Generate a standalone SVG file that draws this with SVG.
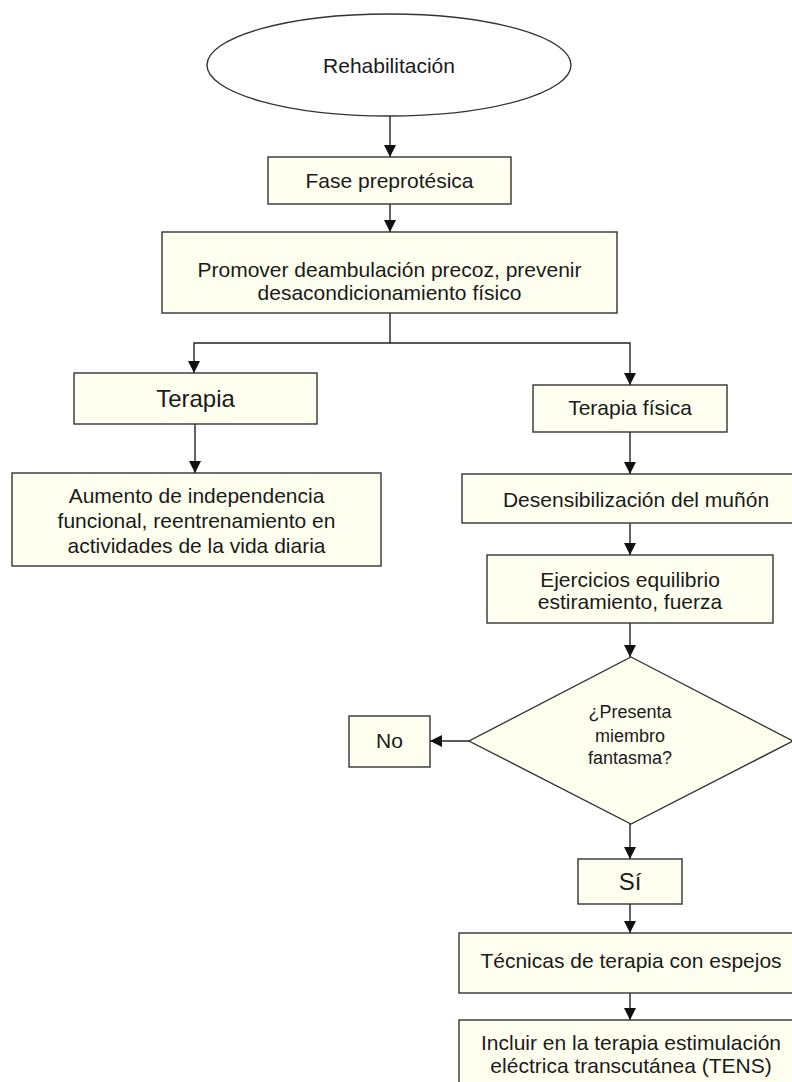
<svg xmlns="http://www.w3.org/2000/svg" width="792" height="1082" viewBox="0 0 792 1082">
  <style>
    .box { fill: #FFFFF0; stroke: #333333; stroke-width: 1.4; }
    .line { fill: none; stroke: #222222; stroke-width: 1.4; }
    text { font-family: "Liberation Sans", Arial, sans-serif; font-size: 21px; fill: #1a1a1a; text-anchor: middle; }
    .big { font-size: 24px; }
    .small { font-size: 18px; }
  </style>
  <defs>
    <marker id="arrow" markerUnits="userSpaceOnUse" markerWidth="12" markerHeight="12" viewBox="0 0 12 12" refX="12" refY="6" orient="auto">
      <path d="M0,0 L12,6 L0,12 Z" fill="#111111"/>
    </marker>
  </defs>

  <rect width="792" height="1082" fill="#ffffff"/>

  <g id="connectors">
    <line class="line" x1="390" y1="116" x2="390" y2="157" marker-end="url(#arrow)"/>
    <line class="line" x1="390" y1="204" x2="390" y2="232" marker-end="url(#arrow)"/>
    <polyline class="line" points="390,313 390,343 194,343 194,373" marker-end="url(#arrow)"/>
    <polyline class="line" points="390,343 630,343 630,385" marker-end="url(#arrow)"/>
    <line class="line" x1="195" y1="424" x2="195" y2="473" marker-end="url(#arrow)"/>
    <line class="line" x1="630" y1="432" x2="630" y2="474" marker-end="url(#arrow)"/>
    <line class="line" x1="630" y1="523" x2="630" y2="555" marker-end="url(#arrow)"/>
    <line class="line" x1="630" y1="623" x2="630" y2="657" marker-end="url(#arrow)"/>
    <line class="line" x1="469" y1="741" x2="430" y2="741" marker-end="url(#arrow)"/>
    <line class="line" x1="630" y1="824" x2="630" y2="859" marker-end="url(#arrow)"/>
    <line class="line" x1="630" y1="904" x2="630" y2="933" marker-end="url(#arrow)"/>
    <line class="line" x1="630" y1="993" x2="630" y2="1020" marker-end="url(#arrow)"/>
  </g>

  <g id="rehabilitacion">
    <ellipse cx="389" cy="65" rx="182" ry="51" fill="#ffffff" stroke="#333333" stroke-width="1.4"/>
    <text x="389" y="73">Rehabilitación</text>
  </g>

  <g id="fase-preprotesica">
    <rect class="box" x="268" y="157" width="243" height="47"/>
    <text x="389.5" y="188">Fase preprotésica</text>
  </g>

  <g id="promover">
    <rect class="box" x="162" y="232" width="455" height="81"/>
    <text x="389.5" y="277">Promover deambulación precoz, prevenir</text>
    <text x="389.5" y="300">desacondicionamiento físico</text>
  </g>

  <g id="terapia">
    <rect class="box" x="74" y="373" width="243" height="51"/>
    <text class="big" x="195.5" y="407">Terapia</text>
  </g>

  <g id="aumento">
    <rect class="box" x="12" y="473" width="369" height="93"/>
    <text x="196.5" y="503">Aumento de independencia</text>
    <text x="196.5" y="528">funcional, reentrenamiento en</text>
    <text x="196.5" y="553">actividades de la vida diaria</text>
  </g>

  <g id="terapia-fisica">
    <rect class="box" x="533" y="385" width="194" height="47"/>
    <text x="630" y="415">Terapia física</text>
  </g>

  <g id="desensibilizacion">
    <rect class="box" x="462" y="474" width="348" height="49"/>
    <text x="636" y="507">Desensibilización del muñón</text>
  </g>

  <g id="ejercicios">
    <rect class="box" x="487" y="555" width="286" height="68"/>
    <text x="630" y="587">Ejercicios equilibrio</text>
    <text x="630" y="609">estiramiento, fuerza</text>
  </g>

  <g id="miembro-fantasma">
    <polygon class="box" points="631,657 793,741 631,824 469,741"/>
    <text class="small" x="630" y="718">¿Presenta</text>
    <text class="small" x="630" y="742">miembro</text>
    <text class="small" x="630" y="764">fantasma?</text>
  </g>

  <g id="no">
    <rect class="box" x="349" y="716" width="81" height="51"/>
    <text x="389.5" y="748">No</text>
  </g>

  <g id="si">
    <rect class="box" x="578" y="859" width="104" height="45"/>
    <text class="big" x="630" y="890">Sí</text>
  </g>

  <g id="tecnicas-espejos">
    <rect class="box" x="459" y="933" width="344" height="60"/>
    <text x="631" y="968">Técnicas de terapia con espejos</text>
  </g>

  <g id="tens">
    <rect class="box" x="459" y="1020" width="344" height="80"/>
    <text x="631" y="1050">Incluir en la terapia estimulación</text>
    <text x="631" y="1073">eléctrica transcutánea (TENS)</text>
  </g>
</svg>
